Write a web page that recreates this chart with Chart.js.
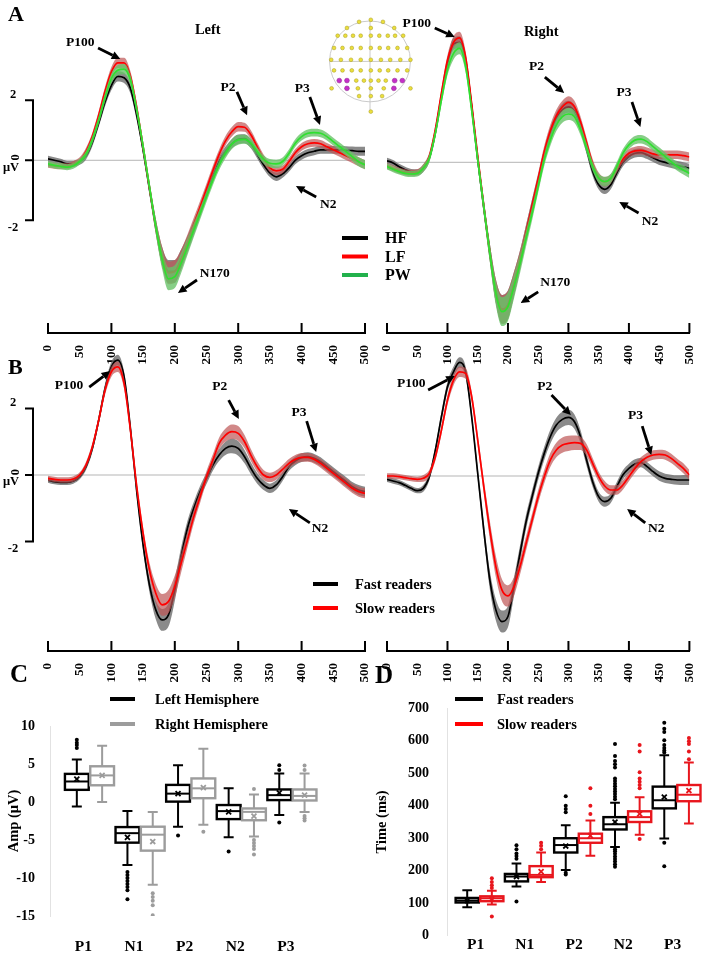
<!DOCTYPE html>
<html>
<head>
<meta charset="utf-8">
<title>ERP figure</title>
<script src="https://cdn.jsdelivr.net/npm/chart.js@4.4.0/dist/chart.umd.min.js"></script>
<style>
  html, body { margin: 0; padding: 0; background: #fff; }
  #fig { position: relative; width: 709px; height: 954px; overflow: hidden; }
  #fig canvas { position: absolute; }
  .panel { position: absolute; font-family: 'Liberation Serif', serif; font-weight: bold; line-height: 1; color: #000; }
</style>
</head>
<body>
<div id="fig">
  <canvas id="aLeft" width="440" height="372" style="left:0;top:0"></canvas>
  <canvas id="aRight" width="337" height="372" style="left:372px;top:0"></canvas>
  <canvas id="bLeft" width="440" height="345" style="left:0;top:345px"></canvas>
  <canvas id="bRight" width="337" height="345" style="left:372px;top:345px"></canvas>
  <canvas id="cBox" width="355" height="264" style="left:0;top:690px"></canvas>
  <canvas id="dBox" width="354" height="264" style="left:355px;top:690px"></canvas>
  <canvas id="inset" width="102" height="111" style="left:319px;top:10px"></canvas>
  <div class="panel" style="left:8px;top:3px;font-size:22px">A</div>
  <div class="panel" style="left:8px;top:356px;font-size:22px">B</div>
  <div class="panel" style="left:10px;top:661px;font-size:25px">C</div>
  <div class="panel" style="left:375px;top:662px;font-size:25px">D</div>
</div>
<script>
// time base (ms) of the averaged waveforms
const times = [0, 10, 20, 30, 40, 50, 60, 70, 80, 90, 100, 110, 120, 130, 140, 150, 160, 170, 180, 190, 200,
  210, 220, 230, 240, 250, 260, 270, 280, 290, 300, 310, 320, 330, 340, 350, 360, 370, 380, 390, 400,
  410, 420, 430, 440, 450, 460, 470, 480, 490, 500];
const majorTicks = [0, 100, 200, 300, 400, 500];

// panel A, left hemisphere (uV)
const aLeftHF = [0.05, 0.0, -0.05, -0.12, -0.12, -0.05, 0.15, 0.6, 1.25, 1.95, 2.5, 2.8, 2.75, 2.4, 1.5, 0.35, -0.95, -2.2, -3.2, -3.7,
  -3.7, -3.3, -2.8, -2.25, -1.7, -1.1, -0.55, -0.05, 0.3, 0.55, 0.7, 0.72, 0.55, 0.2, -0.15, -0.42, -0.55, -0.45, -0.25, 0.0,
  0.15, 0.25, 0.3, 0.35, 0.35, 0.35, 0.35, 0.33, 0.32, 0.3, 0.3];
const aLeftLF = [-0.15, -0.18, -0.2, -0.2, -0.12, 0.0, 0.3, 0.8, 1.5, 2.3, 2.95, 3.25, 3.25, 2.8, 1.75, 0.45, -0.9, -2.2, -3.2, -3.75,
  -3.7, -3.3, -2.75, -2.15, -1.55, -0.95, -0.35, 0.2, 0.65, 0.95, 1.12, 1.1, 0.85, 0.45, 0.05, -0.25, -0.35, -0.3, -0.05, 0.25,
  0.45, 0.55, 0.58, 0.55, 0.45, 0.35, 0.25, 0.15, 0.05, -0.05, -0.15];
const aLeftPW = [-0.12, -0.17, -0.2, -0.23, -0.18, -0.04, 0.2, 0.68, 1.34, 2.1, 2.73, 3.0, 3.04, 2.68, 1.68, 0.46, -0.88, -2.2, -3.3, -3.95,
  -3.88, -3.43, -2.88, -2.32, -1.77, -1.21, -0.66, -0.16, 0.23, 0.54, 0.68, 0.7, 0.57, 0.29, 0.03, -0.1, -0.12, -0.04, 0.23, 0.57,
  0.79, 0.9, 0.92, 0.9, 0.79, 0.62, 0.46, 0.29, 0.12, -0.05, -0.15];
const aLeftSem = [0.1, 0.1, 0.1, 0.1, 0.1, 0.1, 0.12, 0.13, 0.14, 0.15, 0.16, 0.17, 0.17, 0.17, 0.17, 0.18, 0.2, 0.25, 0.32, 0.38,
  0.38, 0.33, 0.28, 0.24, 0.2, 0.18, 0.17, 0.16, 0.16, 0.16, 0.16, 0.15, 0.15, 0.14, 0.14, 0.14, 0.14, 0.13, 0.13, 0.13,
  0.13, 0.13, 0.13, 0.13, 0.13, 0.13, 0.13, 0.14, 0.14, 0.15, 0.15];

// panel A, right hemisphere (uV)
const aRightHF = [0.05, -0.02, -0.15, -0.25, -0.32, -0.33, -0.2, 0.15, 1.0, 2.2, 3.3, 3.95, 4.0, 3.4, 1.85, 0.1, -1.5, -3.0, -4.3, -4.9,
  -4.75, -4.05, -3.25, -2.35, -1.45, -0.6, 0.25, 0.95, 1.45, 1.75, 1.85, 1.7, 1.2, 0.45, -0.3, -0.75, -0.9, -0.75, -0.35, 0.0,
  0.2, 0.3, 0.32, 0.25, 0.15, 0.05, 0.0, -0.05, -0.1, -0.15, -0.2];
const aRightLF = [-0.12, -0.2, -0.28, -0.33, -0.35, -0.33, -0.18, 0.2, 1.1, 2.3, 3.4, 4.0, 4.15, 3.5, 1.95, 0.2, -1.45, -3.0, -4.3, -4.9,
  -4.75, -4.05, -3.25, -2.35, -1.45, -0.55, 0.35, 1.05, 1.55, 1.85, 2.0, 1.85, 1.35, 0.65, -0.05, -0.5, -0.65, -0.55, -0.2, 0.1,
  0.3, 0.38, 0.4, 0.35, 0.28, 0.25, 0.25, 0.25, 0.25, 0.22, 0.18];
const aRightPW = [-0.14, -0.23, -0.31, -0.37, -0.39, -0.37, -0.2, 0.13, 0.97, 2.08, 3.08, 3.63, 3.8, 3.19, 1.74, 0.08, -1.48, -3.03, -4.37, -4.98,
  -4.81, -4.14, -3.37, -2.53, -1.7, -0.81, 0.08, 0.74, 1.24, 1.52, 1.61, 1.52, 1.08, 0.47, -0.14, -0.53, -0.64, -0.53, -0.14, 0.3,
  0.58, 0.74, 0.77, 0.69, 0.52, 0.36, 0.19, 0.02, -0.14, -0.26, -0.37];
const aRightSem = [0.1, 0.1, 0.1, 0.1, 0.1, 0.1, 0.12, 0.13, 0.15, 0.17, 0.18, 0.2, 0.2, 0.2, 0.2, 0.22, 0.25, 0.3, 0.4, 0.48,
  0.48, 0.4, 0.32, 0.27, 0.23, 0.2, 0.2, 0.2, 0.2, 0.2, 0.2, 0.2, 0.18, 0.17, 0.16, 0.16, 0.16, 0.15, 0.15, 0.14,
  0.14, 0.14, 0.14, 0.14, 0.14, 0.14, 0.14, 0.14, 0.14, 0.15, 0.15];

// panel B, fast vs slow readers (uV)
const bLeftFast = [-0.15, -0.2, -0.22, -0.22, -0.18, -0.05, 0.25, 0.8, 1.65, 2.6, 3.25, 3.45, 2.95, 1.4, -0.5, -2.1, -3.3, -4.05, -4.35, -4.2,
  -3.45, -2.45, -1.6, -1.0, -0.5, -0.1, 0.3, 0.6, 0.8, 0.87, 0.8, 0.55, 0.2, -0.1, -0.3, -0.4, -0.3, -0.05, 0.25, 0.42,
  0.52, 0.55, 0.5, 0.4, 0.25, 0.1, -0.05, -0.2, -0.35, -0.45, -0.5];
const bLeftSlow = [-0.1, -0.13, -0.15, -0.15, -0.12, 0.0, 0.3, 0.85, 1.65, 2.55, 3.1, 3.25, 2.75, 1.35, -0.35, -1.75, -2.85, -3.55, -3.9, -3.8,
  -3.35, -2.65, -1.95, -1.25, -0.65, -0.05, 0.45, 0.95, 1.2, 1.3, 1.25, 1.0, 0.6, 0.25, 0.0, -0.07, 0.0, 0.17, 0.35, 0.47,
  0.53, 0.53, 0.47, 0.35, 0.2, 0.05, -0.1, -0.25, -0.4, -0.5, -0.55];
const bLeftSem = [0.08, 0.08, 0.08, 0.08, 0.08, 0.08, 0.1, 0.11, 0.12, 0.14, 0.15, 0.16, 0.16, 0.16, 0.16, 0.18, 0.22, 0.28, 0.33, 0.35,
  0.33, 0.28, 0.23, 0.2, 0.18, 0.17, 0.17, 0.18, 0.2, 0.22, 0.22, 0.2, 0.18, 0.16, 0.15, 0.14, 0.14, 0.13, 0.13, 0.13,
  0.13, 0.13, 0.13, 0.13, 0.13, 0.13, 0.13, 0.14, 0.14, 0.15, 0.15];
const bRightFast = [-0.1, -0.15, -0.2, -0.28, -0.37, -0.44, -0.37, -0.02, 0.78, 1.78, 2.68, 3.13, 3.41, 3.13, 1.78, 0.08, -1.62, -3.12, -4.02, -4.37,
  -4.22, -3.32, -2.32, -1.37, -0.62, 0.08, 0.68, 1.18, 1.53, 1.7, 1.76, 1.63, 1.18, 0.48, -0.17, -0.62, -0.77, -0.67, -0.32, 0.03,
  0.23, 0.36, 0.4, 0.28, 0.13, 0.0, -0.07, -0.1, -0.12, -0.12, -0.12];
const bRightSlow = [0.0, 0.0, -0.02, -0.05, -0.08, -0.1, -0.07, 0.08, 0.58, 1.38, 2.28, 2.88, 3.13, 3.08, 2.38, 1.08, -0.32, -1.62, -2.72, -3.42,
  -3.6, -3.32, -2.72, -2.02, -1.32, -0.62, -0.02, 0.48, 0.78, 0.93, 0.98, 1.0, 0.98, 0.78, 0.38, -0.02, -0.3, -0.42, -0.42, -0.27,
  -0.02, 0.23, 0.43, 0.56, 0.63, 0.65, 0.63, 0.53, 0.38, 0.23, 0.03];
const bRightSem = [0.08, 0.08, 0.08, 0.08, 0.08, 0.08, 0.1, 0.11, 0.12, 0.14, 0.15, 0.16, 0.16, 0.16, 0.16, 0.18, 0.22, 0.28, 0.32, 0.33,
  0.32, 0.28, 0.24, 0.22, 0.2, 0.2, 0.2, 0.21, 0.22, 0.23, 0.23, 0.22, 0.2, 0.18, 0.16, 0.15, 0.15, 0.14, 0.14, 0.14,
  0.14, 0.14, 0.14, 0.14, 0.14, 0.14, 0.14, 0.14, 0.14, 0.15, 0.15];

// panel C, peak amplitudes (uV)
const components = ['P1', 'N1', 'P2', 'N2', 'P3'];
const ampLeftLow = [-0.6, -8.3, -3.25, -4.65, -1.7];
const ampLeftQ1 = [1.6, -5.35, 0.05, -2.25, 0.25];
const ampLeftMedian = [2.7, -4.1, 1.1, -1.2, 0.9];
const ampLeftQ3 = [3.7, -3.3, 2.25, -0.4, 1.65];
const ampLeftHigh = [5.6, -1.2, 4.85, 1.8, 3.75];
const ampLeftMean = [3.0, -4.65, 1.1, -1.3, 1.2];
const ampLeftOutliers = [[7.1, 7.5, 7.8, 8.2], [-9.2, -9.6, -10.0, -10.4, -10.8, -11.2, -11.6, -12.8], [-4.4], [-6.5], [4.2, 4.85, -2.7]];
const ampRightLow = [0.0, -10.9, -3.0, -4.55, -1.3];
const ampRightQ1 = [2.2, -6.4, 0.5, -2.4, 0.2];
const ampRightMedian = [3.5, -4.3, 1.8, -1.3, 0.8];
const ampRightQ3 = [4.7, -3.25, 3.1, -0.85, 1.65];
const ampRightHigh = [7.4, -1.3, 7.0, 1.0, 3.75];
const ampRightMean = [3.5, -5.2, 1.9, -1.85, 0.9];
const ampRightOutliers = [[], [-12.0, -12.5, -13.0, -13.6, -14.9], [-3.9], [1.7, -5.0, -5.4, -5.8, -6.2, -6.9], [4.2, 4.8, -1.85, -2.15, -2.45]];

// panel D, peak latencies (ms)
const latFastLow = [87, 151, 202, 273, 299];
const latFastQ1 = [102, 167, 256, 327, 392];
const latFastMedian = [108, 182, 279, 343, 417];
const latFastQ3 = [116, 190, 300, 365, 459];
const latFastHigh = [140, 222, 340, 409, 556];
const latFastMean = [108, 182, 276, 350, 427];
const latFastOutliers = [[], [105, 237, 245, 253, 266, 278], [188, 194, 380, 390, 400, 429],
  [212, 220, 228, 236, 244, 252, 260, 266, 420, 428, 436, 444, 452, 460, 468, 476, 484, 518, 528, 538, 553, 590],
  [214, 286, 564, 570, 578, 587, 602, 627, 637, 656]];
const latSlowLow = [96, 165, 246, 311, 345];
const latSlowQ1 = [106, 180, 286, 350, 414];
const latSlowMedian = [115, 187, 300, 365, 434];
const latSlowQ3 = [121, 214, 314, 383, 464];
const latSlowHigh = [138, 256, 355, 426, 533];
const latSlowMean = [113, 197, 308, 375, 447];
const latSlowOutliers = [[59, 147, 155, 165, 177], [266, 277, 286], [375, 400, 454], [298, 454, 464, 474, 484, 503, 567, 587], [543, 567, 590, 599, 609]];

// electrode montage of the inset (head radius = 1)
const electrodeRowY = [1.02, 0.97, 0.82, 0.63, 0.33, 0.04, -0.22, -0.47, -0.66, -0.85, -1.23];
const electrodeRowX = [
  [0.02], [-0.27, 0.32], [-0.57, 0.02, 0.6],
  [-0.8, -0.61, -0.42, -0.23, 0.02, 0.23, 0.44, 0.62, 0.82],
  [-0.89, -0.68, -0.45, -0.23, 0.02, 0.24, 0.45, 0.68, 0.92],
  [-0.96, -0.72, -0.47, -0.23, 0.02, 0.27, 0.5, 0.75, 1.0],
  [-0.89, -0.68, -0.45, -0.23, 0.02, 0.24, 0.45, 0.68, 0.92],
  [-0.34, -0.15, 0.02, 0.21, 0.39],
  [-0.95, -0.3, 0.02, 0.34, 1.0],
  [-0.27, 0.02, 0.3], [0.02]];
const roiX = [-0.76, -0.57, -0.57, 0.61, 0.8, 0.59];
const roiY = [-0.47, -0.47, -0.66, -0.47, -0.47, -0.66];

const serif = "'Liberation Serif', 'DejaVu Serif', serif";
const font = (size) => `bold ${size}px ${serif}`;

function arrow(ctx, x1, y1, x2, y2) {
  const a = Math.atan2(y2 - y1, x2 - x1), head = 8.5, w = 4.2;
  const bx = x2 - head * Math.cos(a), by = y2 - head * Math.sin(a);
  ctx.lineWidth = 2.8;
  ctx.beginPath(); ctx.moveTo(x1, y1); ctx.lineTo(bx, by); ctx.stroke();
  ctx.beginPath(); ctx.moveTo(x2, y2);
  ctx.lineTo(bx + w * Math.sin(a), by - w * Math.cos(a));
  ctx.lineTo(bx - w * Math.sin(a), by + w * Math.cos(a));
  ctx.closePath(); ctx.fill();
}

function drawLegend(ctx, lg) {
  ctx.save();
  ctx.font = font(lg.size);
  ctx.textAlign = 'left'; ctx.textBaseline = 'middle';
  lg.items.forEach((it, i) => {
    const y = lg.y + i * lg.dy;
    ctx.strokeStyle = it.color; ctx.lineWidth = 4;
    ctx.beginPath(); ctx.moveTo(lg.x, y); ctx.lineTo(lg.x + lg.len, y); ctx.stroke();
    ctx.fillStyle = '#000';
    ctx.fillText(it.label, lg.textX, y + 1);
  });
  ctx.restore();
}

function erpDecor(d) {
  return {
    id: 'erpDecor',
    beforeDatasetsDraw(chart) {
      const { ctx, chartArea, scales: { y } } = chart;
      const y0 = y.getPixelForValue(0);
      ctx.save();
      ctx.strokeStyle = '#b5b5b5'; ctx.lineWidth = 1;
      ctx.beginPath();
      ctx.moveTo(d.bracket ? chartArea.left - 15 : chartArea.left, y0);
      ctx.lineTo(chartArea.right, y0);
      ctx.stroke();
      ctx.restore();
    },
    afterDraw(chart) {
      const { ctx, chartArea, scales: { x, y } } = chart;
      ctx.save();
      ctx.strokeStyle = '#000'; ctx.fillStyle = '#000';
      // upward tick marks on the time axis
      ctx.lineWidth = 2;
      majorTicks.forEach(v => {
        const px = x.getPixelForValue(v);
        ctx.beginPath(); ctx.moveTo(px, chartArea.bottom); ctx.lineTo(px, chartArea.bottom - 10); ctx.stroke();
      });
      // amplitude scale bar
      if (d.bracket) {
        const bx = chartArea.left - 15;
        const yTop = y.getPixelForValue(2), yMid = y.getPixelForValue(0), yBot = y.getPixelForValue(-2);
        ctx.lineWidth = 2;
        ctx.beginPath();
        ctx.moveTo(bx - 8, yTop); ctx.lineTo(bx, yTop); ctx.lineTo(bx, yBot); ctx.lineTo(bx - 8, yBot);
        ctx.moveTo(bx - 8, yMid); ctx.lineTo(bx, yMid);
        ctx.stroke();
        ctx.font = font(12.5); ctx.textAlign = 'center'; ctx.textBaseline = 'middle';
        ctx.fillText('2', bx - 20, yTop - 6);
        ctx.fillText('-2', bx - 20, yBot + 7);
        ctx.fillText('\u03bcV', bx - 22, yMid + 7);
        ctx.save();
        ctx.translate(bx - 17, yMid - 3); ctx.rotate(-Math.PI / 2);
        ctx.fillText('0', 0, 0);
        ctx.restore();
      }
      // component labels and arrows
      ctx.textAlign = 'center'; ctx.textBaseline = 'middle';
      d.notes.forEach(n => {
        ctx.font = font(n.size || 13.5);
        ctx.fillText(n.text, x.getPixelForValue(n.at[0]), y.getPixelForValue(n.at[1]));
        if (n.from) {
          arrow(ctx, x.getPixelForValue(n.from[0]), y.getPixelForValue(n.from[1]),
            x.getPixelForValue(n.to[0]), y.getPixelForValue(n.to[1]));
        }
      });
      ctx.restore();
      if (d.legend) drawLegend(ctx, d.legend);
    }
  };
}

function bandSets(s) {
  const curve = { cubicInterpolationMode: 'monotone', tension: 0.4, pointRadius: 0 };
  return [
    { ...curve, label: s.name, data: times.map((t, i) => ({ x: t, y: s.mean[i] })), borderColor: s.line, borderWidth: 1.7, fill: false },
    { ...curve, label: s.name + ' +SE', data: times.map((t, i) => ({ x: t, y: s.mean[i] + s.sem[i] })), borderWidth: 0, borderColor: 'rgba(0,0,0,0)', fill: false },
    { ...curve, label: s.name + ' -SE', data: times.map((t, i) => ({ x: t, y: s.mean[i] - s.sem[i] })), borderWidth: 0, borderColor: 'rgba(0,0,0,0)', backgroundColor: s.band, fill: '-1' }
  ];
}

function erpChart(id, seriesTopFirst, view, decor) {
  const datasets = [];
  seriesTopFirst.forEach(s => datasets.push(...bandSets(s)));
  return new Chart(document.getElementById(id), {
    type: 'line',
    data: { datasets },
    options: {
      responsive: false, animation: false, events: [],
      layout: { padding: view.padding },
      plugins: { legend: { display: false }, tooltip: { enabled: false } },
      scales: {
        x: {
          type: 'linear', min: 0, max: 500,
          afterFit: (s) => { s.height = view.axisHeight; },
          border: { display: true, color: '#000', width: 2 },
          grid: { display: false },
          ticks: { stepSize: 50, autoSkip: false, minRotation: 90, maxRotation: 90, padding: 4, color: '#000', font: { family: serif, weight: 'bold', size: 13 } }
        },
        y: { display: false, min: view.yMin, max: view.yMax }
      }
    },
    plugins: [erpDecor(decor)]
  });
}

const black = { line: '#000000', band: 'rgba(105,105,105,0.78)' };
const red = { line: '#ff0000', band: 'rgba(190,85,85,0.7)' };
const green = { line: '#2fe02f', band: 'rgba(105,195,105,0.8)' };

erpChart('aLeft', [
  { name: 'PW', mean: aLeftPW, sem: aLeftSem, ...green },
  { name: 'LF', mean: aLeftLF, sem: aLeftSem, ...red },
  { name: 'HF', mean: aLeftHF, sem: aLeftSem, ...black }
], { padding: { left: 48, right: 75, top: 10, bottom: 0 }, axisHeight: 39, yMin: -5.757, yMax: 5.01 }, {
  bracket: true,
  notes: [
    { text: 'Left', at: [252, 4.34], size: 14.5 },
    { text: 'P100', at: [51, 3.91], from: [79, 3.74], to: [114, 3.38] },
    { text: 'P2', at: [284, 2.44], from: [298, 2.28], to: [314, 1.5] },
    { text: 'P3', at: [401, 2.38], from: [413, 2.11], to: [429, 1.18] },
    { text: 'N2', at: [442, -1.46], from: [423, -1.22], to: [391, -0.86] },
    { text: 'N170', at: [263, -3.76], from: [235, -3.99], to: [205, -4.42] }
  ],
  legend: { x: 342, len: 26, y: 238, dy: 18.5, textX: 385, size: 16,
    items: [{ label: 'HF', color: '#000' }, { label: 'LF', color: '#ff0000' }, { label: 'PW', color: '#22b14c' }] }
});

erpChart('aRight', [
  { name: 'PW', mean: aRightPW, sem: aRightSem, ...green },
  { name: 'LF', mean: aRightLF, sem: aRightSem, ...red },
  { name: 'HF', mean: aRightHF, sem: aRightSem, ...black }
], { padding: { left: 15, right: 6, top: 10, bottom: 0 }, axisHeight: 39, yMin: -5.69, yMax: 5.077 }, {
  bracket: false,
  notes: [
    { text: 'Right', at: [255, 4.34], size: 14.5 },
    { text: 'P100', at: [49, 4.64], from: [79, 4.48], to: [112, 4.18] },
    { text: 'P2', at: [247, 3.18], from: [261, 2.84], to: [293, 2.31] },
    { text: 'P3', at: [392, 2.31], from: [405, 2.01], to: [419, 1.18] },
    { text: 'N2', at: [435, -1.99], from: [416, -1.69], to: [384, -1.32] },
    { text: 'N170', at: [278, -4.02], from: [250, -4.32], to: [221, -4.69] }
  ]
});

erpChart('bLeft', [
  { name: 'Slow readers', mean: bLeftSlow, sem: bLeftSem, ...red },
  { name: 'Fast readers', mean: bLeftFast, sem: bLeftSem, ...black }
], { padding: { left: 48, right: 75, top: 5, bottom: 0 }, axisHeight: 39, yMin: -5.285, yMax: 3.754 }, {
  bracket: true,
  notes: [
    { text: 'P100', at: [33, 2.7], from: [65, 2.64], to: [98, 3.12] },
    { text: 'P2', at: [271, 2.67], from: [285, 2.25], to: [301, 1.68] },
    { text: 'P3', at: [396, 1.89], from: [408, 1.62], to: [423, 0.69] },
    { text: 'N2', at: [429, -1.62], from: [413, -1.44], to: [380, -1.02] }
  ],
  legend: { x: 313, len: 25, y: 239, dy: 24, textX: 355, size: 14.5,
    items: [{ label: 'Fast readers', color: '#000' }, { label: 'Slow readers', color: '#ff0000' }] }
});

erpChart('bRight', [
  { name: 'Slow readers', mean: bRightSlow, sem: bRightSem, ...red },
  { name: 'Fast readers', mean: bRightFast, sem: bRightSem, ...black }
], { padding: { left: 15, right: 6, top: 5, bottom: 0 }, axisHeight: 39, yMin: -5.255, yMax: 3.784 }, {
  bracket: false,
  notes: [
    { text: 'P100', at: [40, 2.79], from: [68, 2.58], to: [112, 3.0] },
    { text: 'P2', at: [261, 2.7], from: [272, 2.43], to: [304, 1.83] },
    { text: 'P3', at: [411, 1.83], from: [422, 1.5], to: [437, 0.63] },
    { text: 'N2', at: [445, -1.59], from: [427, -1.41], to: [397, -0.99] }
  ]
});

// box plots: boxes, whiskers and component names drawn through the scales, points by the library
function boxDecor(groups, view) {
  return {
    id: 'boxDecor',
    beforeDatasetsDraw(chart) {
      const { ctx, scales: { x, y } } = chart;
      ctx.save();
      groups.forEach(g => {
        ctx.strokeStyle = g.color;
        components.forEach((c, i) => {
          const xc = x.getPixelForValue(i + g.shift);
          const half = x.getPixelForValue(i + g.shift + view.boxHalf) - xc;
          const cap = half * 0.42;
          const yl = y.getPixelForValue(g.low[i]), y1 = y.getPixelForValue(g.q1[i]);
          const ym = y.getPixelForValue(g.median[i]), y3 = y.getPixelForValue(g.q3[i]);
          const yh = y.getPixelForValue(g.high[i]);
          ctx.lineWidth = 2;
          ctx.beginPath();
          ctx.moveTo(xc, y1); ctx.lineTo(xc, yl);
          ctx.moveTo(xc - cap, yl); ctx.lineTo(xc + cap, yl);
          ctx.moveTo(xc, y3); ctx.lineTo(xc, yh);
          ctx.moveTo(xc - cap, yh); ctx.lineTo(xc + cap, yh);
          ctx.stroke();
          ctx.lineWidth = 2.4;
          ctx.strokeRect(xc - half, y3, half * 2, y1 - y3);
          ctx.lineWidth = 2;
          ctx.beginPath(); ctx.moveTo(xc - half, ym); ctx.lineTo(xc + half, ym); ctx.stroke();
        });
      });
      ctx.restore();
    },
    afterDraw(chart) {
      const { ctx, chartArea, scales: { x } } = chart;
      ctx.save();
      ctx.font = font(15.5); ctx.fillStyle = '#000';
      ctx.textAlign = 'center'; ctx.textBaseline = 'middle';
      components.forEach((c, i) => {
        ctx.fillText(c, x.getPixelForValue(i) + view.labelOffset, chartArea.bottom + view.labelDrop);
      });
      ctx.restore();
      drawLegend(ctx, view.legend);
    }
  };
}

function boxChart(id, groups, view) {
  const datasets = [];
  groups.forEach(g => {
    datasets.push({
      label: g.name + ' outliers',
      data: components.flatMap((c, i) => g.outliers[i].map(v => ({ x: i + g.shift, y: v }))),
      pointRadius: 2, backgroundColor: g.color, borderWidth: 0
    });
    datasets.push({
      label: g.name + ' mean',
      data: components.map((c, i) => ({ x: i + g.shift, y: g.mean[i] })),
      pointStyle: 'crossRot', pointRadius: 3.5, borderColor: g.color, backgroundColor: g.color, borderWidth: 1.8
    });
  });
  return new Chart(document.getElementById(id), {
    type: 'scatter',
    data: { datasets },
    options: {
      responsive: false, animation: false, events: [],
      layout: { padding: view.padding },
      plugins: { legend: { display: false }, tooltip: { enabled: false } },
      scales: {
        x: {
          type: 'linear', min: view.xMin, max: view.xMax,
          afterFit: (s) => { s.height = view.axisHeight; },
          border: { display: false }, grid: { display: false },
          ticks: { display: false }
        },
        y: {
          min: view.yMin, max: view.yMax,
          afterFit: (s) => { s.width = view.axisWidth; },
          border: { display: true, color: '#e2e2e2', width: 1 }, grid: { display: false },
          ticks: { stepSize: view.yStep, padding: view.tickPad, color: '#000', font: { family: serif, weight: 'bold', size: 14 } },
          title: { display: true, text: view.title, color: '#000', font: { family: serif, weight: 'bold', size: 14.5 }, padding: { top: view.titlePad, bottom: 0 } }
        }
      }
    },
    plugins: [boxDecor(groups, view)]
  });
}

boxChart('cBox', [
  { name: 'Left Hemisphere', color: '#000000', shift: -0.25, low: ampLeftLow, q1: ampLeftQ1, median: ampLeftMedian, q3: ampLeftQ3, high: ampLeftHigh, mean: ampLeftMean, outliers: ampLeftOutliers },
  { name: 'Right Hemisphere', color: '#9c9c9c', shift: 0.25, low: ampRightLow, q1: ampRightQ1, median: ampRightMedian, q3: ampRightQ3, high: ampRightHigh, mean: ampRightMean, outliers: ampRightOutliers }
], {
  padding: { left: 0, right: 15, top: 36, bottom: 0 }, axisHeight: 38, axisWidth: 50,
  xMin: -0.78, xMax: 4.95, yMin: -15, yMax: 10, yStep: 5, boxHalf: 0.235,
  labelDrop: 31, labelOffset: -6, tickPad: 7, title: 'Amp (\u03bcV)', titlePad: 6,
  legend: { x: 110, len: 25, y: 9, dy: 25, textX: 155, size: 14.5,
    items: [{ label: 'Left Hemisphere', color: '#000' }, { label: 'Right Hemisphere', color: '#9c9c9c' }] }
});

boxChart('dBox', [
  { name: 'Fast readers', color: '#000000', shift: -0.25, low: latFastLow, q1: latFastQ1, median: latFastMedian, q3: latFastQ3, high: latFastHigh, mean: latFastMean, outliers: latFastOutliers },
  { name: 'Slow readers', color: '#e8161d', shift: 0.25, low: latSlowLow, q1: latSlowQ1, median: latSlowMedian, q3: latSlowQ3, high: latSlowHigh, mean: latSlowMean, outliers: latSlowOutliers }
], {
  padding: { left: 0, right: 4, top: 12, bottom: 0 }, axisHeight: 16, axisWidth: 92,
  xMin: -0.66, xMax: 4.54, yMin: 0, yMax: 700, yStep: 100, boxHalf: 0.235,
  labelDrop: 9, labelOffset: -4, tickPad: 10, title: 'Time (ms)', titlePad: 19,
  legend: { x: 100, len: 28, y: 9, dy: 25, textX: 142, size: 14.5,
    items: [{ label: 'Fast readers', color: '#000' }, { label: 'Slow readers', color: '#ff0000' }] }
});

// electrode inset
const headOutline = {
  id: 'headOutline',
  beforeDatasetsDraw(chart) {
    const { ctx, scales: { x, y } } = chart;
    const cx = x.getPixelForValue(0), cy = y.getPixelForValue(0);
    const r = x.getPixelForValue(1) - cx;
    ctx.save();
    ctx.strokeStyle = '#c4c4c4'; ctx.lineWidth = 0.9;
    ctx.beginPath(); ctx.arc(cx, cy, r, 0, Math.PI * 2); ctx.stroke();
    ctx.beginPath();
    ctx.moveTo(cx, y.getPixelForValue(1.05)); ctx.lineTo(cx, y.getPixelForValue(-1.25));
    ctx.moveTo(x.getPixelForValue(-1), cy); ctx.lineTo(x.getPixelForValue(1), cy);
    ctx.stroke();
    ctx.restore();
  }
};

new Chart(document.getElementById('inset'), {
  type: 'scatter',
  data: {
    datasets: [
      { label: 'ROI', data: roiX.map((v, i) => ({ x: v, y: roiY[i] })), pointRadius: 2.4, backgroundColor: '#c42fc8', borderColor: '#8a1f8c', borderWidth: 0.5 },
      { label: 'Electrodes', data: electrodeRowY.flatMap((yy, r) => electrodeRowX[r].map(xx => ({ x: xx, y: yy }))), pointRadius: 1.9, backgroundColor: '#ebdf3c', borderColor: '#a69a22', borderWidth: 0.5 }
    ]
  },
  options: {
    responsive: false, animation: false, events: [],
    layout: { padding: 0 },
    plugins: { legend: { display: false }, tooltip: { enabled: false } },
    scales: {
      x: { display: false, min: -1.15, max: 1.15 },
      y: { display: false, min: -1.35, max: 1.15 }
    }
  },
  plugins: [headOutline]
});
</script>
</body>
</html>
